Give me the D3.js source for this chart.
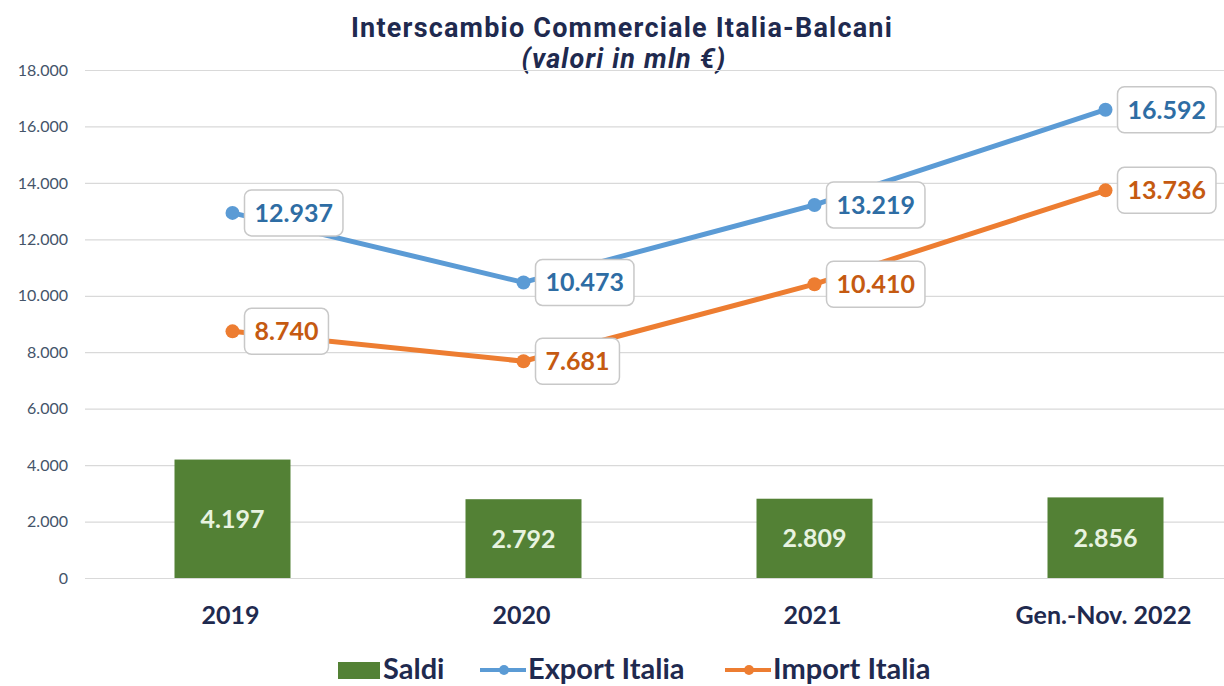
<!DOCTYPE html>
<html>
<head>
<meta charset="utf-8">
<script src="https://cdn.jsdelivr.net/npm/d3@7"></script>
<style>
  body { margin: 0; background: #fff; }
  svg { display: block; font-family: Lato, "Open Sans", sans-serif; }
</style>
</head>
<body>
<svg id="chart" width="1224" height="686"></svg>
<script>
const categories = ["2019", "2020", "2021", "Gen.-Nov. 2022"]
const saldi = [4197, 2792, 2809, 2856]
const exportItalia = [12937, 10473, 13219, 16592]
const importItalia = [8740, 7681, 10410, 13736]
const yTicks = [0, 2000, 4000, 6000, 8000, 10000, 12000, 14000, 16000, 18000]

const width = 1224
const height = 686
const navy = '#1f2a4f'
const green = '#538135'
const blue = '#5b9bd5'
const orange = '#ed7d31'

const svg = d3.select('#chart')
const fmt = d3.formatLocale({decimal: ',', thousands: '.', grouping: [3], currency: ['', '€']}).format(',d')

const x = d3.scaleBand()
  .domain(categories)
  .range([85, 1249])

const y = d3.scaleLinear()
  .domain([0, 18000])
  .range([578, 70])

// title
svg.append('text')
  .attr('x', 622).attr('y', 37)
  .attr('text-anchor', 'middle')
  .attr('font-family', 'Roboto')
  .attr('font-weight', 'bold')
  .attr('font-size', 27)
  .attr('letter-spacing', 1.2)
  .attr('fill', navy)
  .text('Interscambio Commerciale Italia-Balcani')

svg.append('text')
  .attr('x', 624).attr('y', 68)
  .attr('text-anchor', 'middle')
  .attr('font-family', 'Roboto')
  .attr('font-weight', 'bold')
  .attr('font-style', 'italic')
  .attr('font-size', 27)
  .attr('letter-spacing', 1.2)
  .attr('fill', navy)
  .text('(valori in mln €)')

// grid + y axis
const yAxis = svg.append('g')
  .attr('transform', 'translate(85,0)')
  .call(d3.axisLeft(y).tickValues(yTicks).tickFormat(fmt).tickSize(-(width - 85)).tickPadding(17))
yAxis.select('.domain').remove()
yAxis.selectAll('.tick line').attr('stroke', '#d9d9d9').attr('stroke-width', 1.2)
yAxis.selectAll('.tick text')
  .attr('font-size', 16)
  .attr('fill', '#44546a')
  .attr('font-family', 'Lato')

// x axis labels
const xAxis = svg.append('g')
  .attr('transform', 'translate(0,578)')
  .call(d3.axisBottom(x).tickSize(0).tickPadding(28))
xAxis.select('.domain').remove()
xAxis.selectAll('.tick text')
  .attr('font-size', 25)
  .attr('font-weight', 'bold')
  .attr('fill', navy)
  .attr('font-family', 'Lato')

// bars (saldi)
const barW = 116
const bars = svg.append('g').attr('id', 'bars')
bars.selectAll('rect')
  .data(saldi)
  .enter().append('rect')
  .attr('x', (d, i) => x(categories[i]) + x.bandwidth() / 2 - barW / 2 + 2)
  .attr('y', d => y(d))
  .attr('width', barW)
  .attr('height', d => y(0) - y(d))
  .attr('fill', green)

bars.selectAll('text')
  .data(saldi)
  .enter().append('text')
  .attr('x', (d, i) => x(categories[i]) + x.bandwidth() / 2 + 2)
  .attr('y', d => (y(d) + y(0)) / 2)
  .attr('dy', '0.36em')
  .attr('text-anchor', 'middle')
  .attr('font-size', 25)
  .attr('font-weight', 'bold')
  .attr('fill', '#e8f3e0')
  .text(d => fmt(d))

// lines
const cx = i => x(categories[i]) + x.bandwidth() / 2 + 2
const line = d3.line().x((d, i) => cx(i)).y(d => y(d))

function drawSeries(values, color, textColor) {
  const g = svg.append('g')
  g.append('path')
    .datum(values)
    .attr('d', line)
    .attr('fill', 'none')
    .attr('stroke', color)
    .attr('stroke-width', 5)
    .attr('stroke-linejoin', 'round')
  g.selectAll('circle')
    .data(values)
    .enter().append('circle')
    .attr('cx', (d, i) => cx(i))
    .attr('cy', d => y(d))
    .attr('r', 7)
    .attr('fill', color)

  // label boxes
  const lab = g.selectAll('g.lab')
    .data(values)
    .enter().append('g')
    .attr('class', 'lab')
    .attr('transform', (d, i) => `translate(${cx(i) + 12},${y(d)})`)
  lab.append('rect')
    .attr('y', -23)
    .attr('height', 46)
    .attr('rx', 7)
    .attr('fill', '#fff')
    .attr('stroke', '#c8c8c8')
    .attr('stroke-width', 1.5)
  const texts = lab.append('text')
    .attr('x', 10)
    .attr('dy', '0.36em')
    .attr('font-size', 25)
    .attr('font-weight', 'bold')
    .attr('fill', textColor)
    .text(d => fmt(d))
  texts.each(function () {
    const w = this.getComputedTextLength()
    d3.select(this.parentNode).select('rect').attr('width', w + 20)
  })
}

drawSeries(exportItalia, blue, '#2e6da4')
drawSeries(importItalia, orange, '#c55a11')

// legend
const legend = svg.append('g').attr('transform', 'translate(0,670)')
legend.append('rect')
  .attr('x', 338).attr('y', -8).attr('width', 42).attr('height', 17)
  .attr('fill', green)
legend.append('text')
  .attr('x', 383).attr('y', 9)
  .attr('font-size', 29).attr('font-weight', 'bold').attr('fill', navy)
  .text('Saldi')

const legItems = [
  {x: 480, color: blue, label: 'Export Italia'},
  {x: 725, color: orange, label: 'Import Italia'}
]
legItems.forEach(d => {
  legend.append('line')
    .attr('x1', d.x).attr('x2', d.x + 46)
    .attr('stroke', d.color).attr('stroke-width', 4)
  legend.append('circle')
    .attr('cx', d.x + 24).attr('r', 5).attr('fill', d.color)
  legend.append('text')
    .attr('x', d.x + 48).attr('y', 9)
    .attr('font-size', 29).attr('font-weight', 'bold').attr('fill', navy)
    .text(d.label)
})
</script>
</body>
</html>
